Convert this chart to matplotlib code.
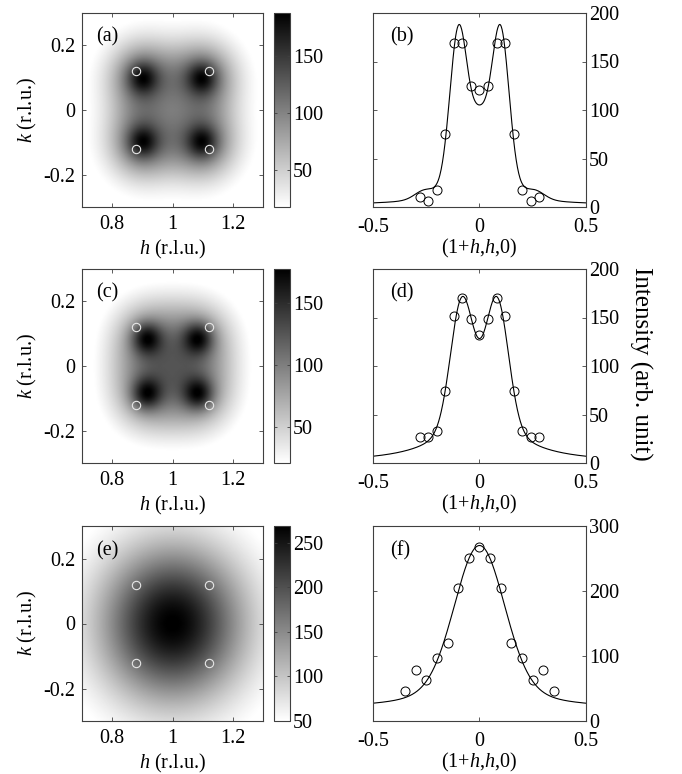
import numpy as np
import matplotlib
matplotlib.use('Agg')
import matplotlib.pyplot as plt

plt.rcParams['font.family'] = 'Liberation Serif'
plt.rcParams['mathtext.fontset'] = 'custom'
plt.rcParams['mathtext.rm'] = 'Liberation Serif'
plt.rcParams['mathtext.it'] = 'Liberation Serif:italic'
plt.rcParams['axes.unicode_minus'] = False
plt.rcParams['font.size'] = 14.5

# measured cuts along (1+h,h,0)
b_h = [-0.28, -0.24, -0.20, -0.16, -0.12, -0.08, -0.04, 0.0, 0.04, 0.08, 0.12, 0.16, 0.20, 0.24, 0.28]
b_I = [10, 6, 18, 75, 169, 169, 125, 121, 125, 169, 169, 75, 18, 6, 10]
d_h = [-0.28, -0.24, -0.20, -0.16, -0.12, -0.08, -0.04, 0.0, 0.04, 0.08, 0.12, 0.16, 0.20, 0.24, 0.28]
d_I = [26.5, 26.5, 33, 74, 152, 170, 148, 132, 148, 170, 152, 74, 33, 26.5, 26.5]
f_h = [-0.35, -0.30, -0.25, -0.20, -0.15, -0.10, -0.05, 0.0, 0.05, 0.10, 0.15, 0.20, 0.25, 0.30, 0.35]
f_I = [46, 78, 63, 97, 120, 205, 251, 268, 251, 205, 120, 97, 63, 78, 46]

# incommensurate positions marked on the maps
ring_h = [0.88, 1.12, 0.88, 1.12]
ring_k = [0.12, 0.12, -0.12, -0.12]

# colour limits of the maps
clim_a = (18, 188)
clim_c = (21, 177)
clim_e = (50, 269)


def gauss(x, s):
    return np.exp(-x**2 / (2 * s**2))


def cut_model(h, bg, peaks, amp, width, core, core_w, bumps=(), bump_amp=0.0, bump_w=1.0):
    y = bg + core / (1 + (h / core_w)**2)
    for p in peaks:
        y = y + amp * gauss(h - p, width)
    for p in bumps:
        y = y + bump_amp * gauss(h - p, bump_w)
    return y


def map_model(H, K, bg, spots, amp, width, wing, wing_w, halo=0.0, halo_w=1.0):
    y = bg + halo * gauss(np.hypot(H - 1, K), halo_w)
    for (x0, y0) in spots:
        r = np.hypot(H - x0, K - y0)
        y = y + amp * gauss(r, width) + wing * gauss(r, wing_w)
    return y


def spots(d):
    return [(1 - d, d), (1 + d, d), (1 - d, -d), (1 + d, -d)]


hh = np.linspace(-0.5, 0.5, 501)
gx = np.linspace(0.7, 1.3, 241)
gy = np.linspace(-0.3, 0.3, 241)
H, K = np.meshgrid(gx, gy)

curve_b = cut_model(hh, 2, [-0.1, 0.1], 150, 0.04, 90, 0.08, [-0.26, 0.26], 8, 0.045)
curve_d = cut_model(hh, 0.5, [-0.085, 0.085], 117.5, 0.052, 66, 0.165)
curve_f = cut_model(hh, 18, [0.0], 202, 0.115, 50, 0.24)

map_a = map_model(H, K, 4, spots(0.1), 63, 0.035, 96, 0.08, 20, 0.2)
map_c = map_model(H, K, 4, spots(0.087), 74, 0.035, 61, 0.09, 25, 0.15)
map_e = cut_model(np.hypot(H - 1, K) / np.sqrt(2), 18, [0.0], 202, 0.115, 50, 0.24)

W, Hpx = 682, 774
fig = plt.figure(figsize=(W / 100, Hpx / 100), dpi=100)


def box(x0, y0, x1, y1):
    return [x0 / W, 1 - y1 / Hpx, (x1 - x0) / W, (y1 - y0) / Hpx]


def style(ax):
    for s in ax.spines.values():
        s.set_linewidth(0.8)
        s.set_color('#404040')
    ax.tick_params(direction='in', top=True, right=True, length=3, width=0.6,
                   color='#404040')
    ax.tick_params(axis='x', pad=6)
    ax.tick_params(axis='y', pad=5)


rows = [(13, 207), (269, 463), (526, 721)]
maps = [map_a, map_c, map_e]
clims = [clim_a, clim_c, clim_e]
cticks = [[50, 100, 150], [50, 100, 150], [50, 100, 150, 200, 250]]
cuts = [(b_h, b_I, curve_b), (d_h, d_I, curve_d), (f_h, f_I, curve_f)]
ylims = [(0, 200), (0, 200), (0, 300)]
yticks = [[0, 50, 100, 150, 200], [0, 50, 100, 150, 200], [0, 100, 200, 300]]
tags = [('(a)', '(b)'), ('(c)', '(d)'), ('(e)', '(f)')]

for i, (top, bot) in enumerate(rows):
    # intensity map
    ax = fig.add_axes(box(82, top, 263, bot))
    im = ax.imshow(maps[i], extent=[0.7, 1.3, -0.3, 0.3], origin='lower', aspect='auto',
                   cmap='gray_r', vmin=clims[i][0], vmax=clims[i][1], interpolation='bilinear')
    ax.plot(ring_h, ring_k, 'o', mfc='none', mec='#e6e6e6', ms=6, mew=0.8)
    ax.set_xlim(0.7, 1.3)
    ax.set_ylim(-0.3, 0.3)
    ax.set_xticks([0.8, 1.0, 1.2])
    ax.set_xticklabels(['0.8', '1', '1.2'])
    ax.set_yticks([-0.2, 0, 0.2])
    ax.set_yticklabels(['-0.2', '0', '0.2'])
    style(ax)
    ax.set_xlabel(r'$\it{h}$ (r.l.u.)')
    ax.xaxis.set_label_coords(0.5, -0.16)
    ax.set_ylabel(r'$\it{k}$ (r.l.u.)')
    ax.yaxis.set_label_coords(-0.235, 0.5)
    ax.text(0.08, 0.875, tags[i][0], transform=ax.transAxes, va='center', ha='left')

    cax = fig.add_axes(box(274, top, 290, bot))
    cb = fig.colorbar(im, cax=cax, ticks=cticks[i])
    cb.outline.set_linewidth(0.8)
    cb.outline.set_edgecolor('#404040')
    cax.tick_params(direction='in', left=True, right=True, length=2.5, width=0.6,
                    color='#404040', pad=2)

    # cut along (1+h,h,0)
    hx, hy, curve = cuts[i]
    ax2 = fig.add_axes(box(373, top, 586, bot))
    ax2.plot(hh, curve, color='black', lw=0.8)
    ax2.plot(hx, hy, 'o', mfc='none', mec='black', ms=6.5, mew=0.7)
    ax2.set_xlim(-0.5, 0.5)
    ax2.set_ylim(*ylims[i])
    ax2.set_xticks([-0.5, 0, 0.5])
    ax2.set_xticklabels(['-0.5', '0', '0.5'])
    ax2.set_yticks(yticks[i])
    style(ax2)
    ax2.tick_params(axis='x', pad=8)
    ax2.tick_params(axis='y', labelleft=False, labelright=True, pad=2)
    ax2.set_xlabel(r'(1+$\it{h}$,$\it{h}$,0)')
    ax2.xaxis.set_label_coords(0.5, -0.155)
    ax2.text(0.08, 0.875, tags[i][1], transform=ax2.transAxes, va='center', ha='left')

fig.text(641 / W, 1 - 364 / Hpx, 'Intensity (arb. unit)', rotation=-90,
         ha='center', va='center', fontsize=18)

fig.savefig('out.png', dpi=100)
